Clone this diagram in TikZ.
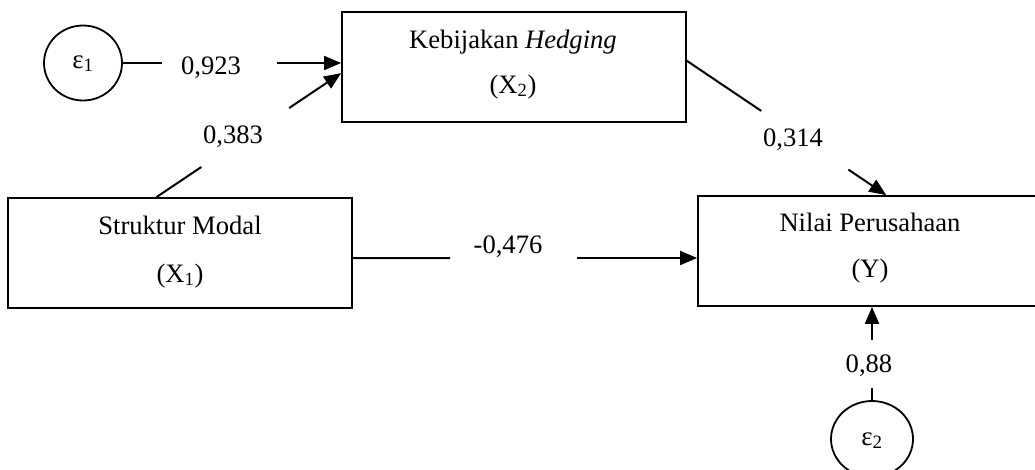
\documentclass[tikz,border=0pt]{standalone}
\usepackage{fontspec}
\setmainfont{Liberation Serif}
\usetikzlibrary{arrows.meta,shapes.geometric,calc}
\begin{document}
\begin{tikzpicture}[x=1pt,y=-1pt,
  box/.style={draw,line width=1.8pt,minimum width=344pt,minimum height=110pt,inner sep=0pt},
  err/.style={draw,ellipse,line width=1.8pt,inner sep=0pt},
  lbl/.style={anchor=base,inner sep=0pt,font=\fontsize{26.6}{30}\selectfont},
  errlbl/.style={anchor=base,inner sep=0pt,font=\fontsize{27}{30}\selectfont},
  link/.style={line width=2pt},
  arr/.style={line width=2pt,-{Triangle[length=17pt,width=14pt]}}]
\useasboundingbox (0,0) rectangle (1035,469);
\clip (0,0) rectangle (1035,469);

% variables
\node[box] (x2) at (514,67) {};
\node[box] (x1) at (180,253) {};
\node[box] (y)  at (870,251) {};
\node[err,minimum width=78pt,minimum height=75pt] (e1) at (83,63) {};
\node[err,minimum width=82pt,minimum height=76pt] (e2) at (872,439) {};

% variable names
\node[lbl] (x2a) at (513,48) {Kebijakan \textit{Hedging}};
\node[lbl] (x2b) at (513,93) {(X\textsubscript{2})};
\node[lbl] (x1a) at (180,234) {Struktur Modal};
\node[lbl] (x1b) at (180,282) {(X\textsubscript{1})};
\node[lbl] (ya)  at (870,231) {Nilai Perusahaan};
\node[lbl] (yb)  at (870,277) {(Y)};
\node[errlbl] (e1t) at (83,68) {ε\textsubscript{1}};
\node[errlbl] (e2t) at (872,445) {ε\textsubscript{2}};

% e1 -> X2
\coordinate (g1a) at (162,63);
\coordinate (g1b) at (277,63);
\draw[link] (e1.east) -- (g1a);
\draw[arr] (g1b) -- (g1b -| x2.west);
\node[lbl] (l923) at (211,74) {0,923};

% X1 -> X2
\coordinate (a1) at ($(x1.north west)!0.432!(x1.north east)$);
\coordinate (b1) at ($(x2.north west)!0.555!(x2.south west)$);
\draw[link] (a1) -- ($(a1)!0.243!(b1)$);
\draw[arr] ($(a1)!0.719!(b1)$) -- (b1);
\node[lbl] (l383) at (233,143) {0,383};

% X2 -> Y
\coordinate (a2) at ($(x2.north east)!0.445!(x2.south east)$);
\coordinate (b2) at ($(y.north west)!0.547!(y.north east)$);
\draw[link] (a2) -- ($(a2)!0.373!(b2)$);
\draw[arr] ($(a2)!0.81!(b2)$) -- (b2);
\node[lbl] (l314) at (793,146) {0,314};

% X1 -> Y
\coordinate (a3) at ($(x1.north east)!0.545!(x1.south east)$);
\coordinate (g3a) at (450,258);
\coordinate (g3b) at (577,258);
\draw[link] (a3) -- (g3a);
\draw[arr] (g3b) -- (g3b -| y.west);
\node[lbl] (l476) at (508,253) {-0,476};

% e2 -> Y
\coordinate (g4a) at (872,388);
\coordinate (g4b) at (872,340);
\draw[link] (e2.north) -- (g4a);
\draw[arr] (g4b) -- (g4b |- y.south);
\node[lbl] (l88) at (869,372) {0,88};
\end{tikzpicture}
\end{document}
